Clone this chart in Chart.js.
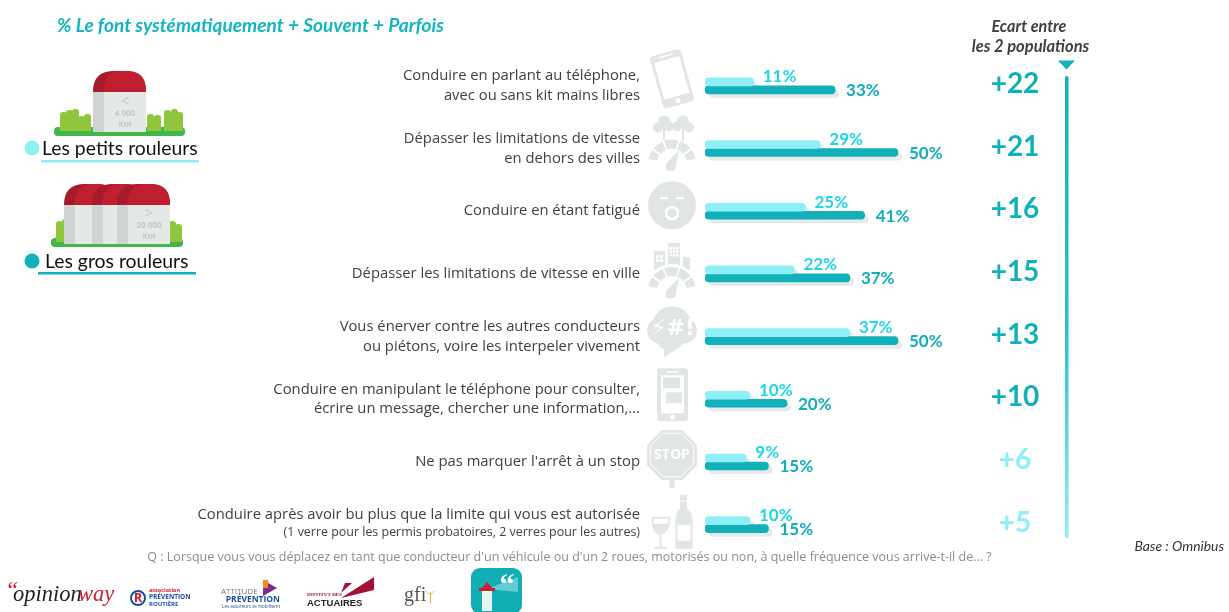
<!DOCTYPE html>
<html>
<head>
<meta charset="utf-8">
<title>Ecart entre les 2 populations</title>
<script src="https://cdn.jsdelivr.net/npm/chart.js@4"></script>
<style>
html, body { margin: 0; padding: 0; background: #fff; overflow: hidden; }
canvas { display: block; }
</style>
</head>
<body>
<canvas id="behaviourChart" width="1229" height="612"></canvas>
<script>
const categories = [
  ['Conduire en parlant au téléphone,', 'avec ou sans kit mains libres'],
  ['Dépasser les limitations de vitesse', 'en dehors des villes'],
  'Conduire en étant fatigué',
  'Dépasser les limitations de vitesse en ville',
  ['Vous énerver contre les autres conducteurs', 'ou piétons, voire les interpeler vivement'],
  ['Conduire en manipulant le téléphone pour consulter,', 'écrire un message, chercher une information,...'],
  'Ne pas marquer l\'arrêt à un stop',
  ['Conduire après avoir bu plus que la limite qui vous est autorisée', ' ']
];
const categoryNote = '(1 verre pour les permis probatoires, 2 verres pour les autres)';
const petitsRouleurs = [11, 29, 25, 22, 37, 10, 9, 10];
const grosRouleurs = [33, 50, 41, 37, 50, 20, 15, 15];
const ecarts = ['+22', '+21', '+16', '+15', '+13', '+10', '+6', '+5'];
const seriesNames = ['Les petits rouleurs', 'Les gros rouleurs'];

const LIGHT = '#8ef0f6';
const DARK = '#12b0b8';
const GREY = '#e1e6e5';
const FONT = '"Open Sans", sans-serif';
const NUM_FONT = 'Lato, sans-serif';

function rr(ctx, x, y, w, h, r) {
  ctx.beginPath();
  ctx.roundRect(x, y, w, h, r);
}

function text(ctx, str, x, y, font, color, align) {
  ctx.font = font;
  ctx.fillStyle = color;
  ctx.textAlign = align || 'left';
  ctx.textBaseline = 'middle';
  ctx.fillText(str, x, y);
}

// little gauge shared by icons 2 and 4
function gauge(ctx, cx, cy) {
  ctx.fillStyle = GREY;
  const segs = [[-2.95, -2.55], [-2.45, -1.98], [-1.9, -1.3], [-1.22, -0.7], [-0.6, -0.2]];
  segs.forEach(s => {
    ctx.beginPath();
    ctx.arc(cx, cy, 24, s[0], s[1]);
    ctx.arc(cx, cy, 15, s[1], s[0], true);
    ctx.closePath();
    ctx.fill();
  });
  ctx.beginPath();
  ctx.moveTo(cx + 7, cy - 13);
  ctx.lineTo(cx + 3, cy + 7);
  ctx.lineTo(cx - 6, cy + 7);
  ctx.lineTo(cx - 6, cy);
  ctx.closePath();
  ctx.fill();
}

const icons = [
  function (ctx, y) { // phone
    ctx.save();
    ctx.translate(672, y - 7);
    ctx.rotate(-0.27);
    ctx.fillStyle = GREY;
    rr(ctx, -16, -27, 32, 54, 4);
    ctx.fill();
    ctx.fillStyle = '#fff';
    ctx.fillRect(-13, -20, 26, 38);
    ctx.fillRect(-7, -24.5, 14, 1.5);
    ctx.beginPath();
    ctx.arc(0, 22.5, 2.5, 0, Math.PI * 2);
    ctx.fill();
    ctx.restore();
  },
  function (ctx, y) { // trees and gauge
    ctx.fillStyle = GREY;
    [[664, y - 27, 6], [658, y - 21, 5], [669, y - 22, 5], [683, y - 27, 6], [677, y - 22, 5], [689, y - 21, 5]].forEach(c => {
      ctx.beginPath();
      ctx.arc(c[0], c[1], c[2], 0, Math.PI * 2);
      ctx.fill();
    });
    ctx.fillRect(663, y - 22, 2, 14);
    ctx.fillRect(682, y - 22, 2, 14);
    gauge(ctx, 672, y + 15);
  },
  function (ctx, y) { // tired face
    const cy = y - 6;
    ctx.fillStyle = GREY;
    ctx.beginPath();
    ctx.arc(672, cy, 24, 0, Math.PI * 2);
    ctx.fill();
    ctx.fillStyle = '#fff';
    ctx.fillRect(660, cy - 8, 8, 2);
    ctx.fillRect(676, cy - 8, 8, 2);
    ctx.strokeStyle = '#fff';
    ctx.lineWidth = 2.5;
    ctx.beginPath();
    ctx.arc(672, cy + 8, 6, 0, Math.PI * 2);
    ctx.stroke();
  },
  function (ctx, y) { // buildings and gauge
    ctx.fillStyle = GREY;
    ctx.fillRect(654, y - 23, 11, 25);
    ctx.fillRect(668, y - 31, 12, 33);
    ctx.fillRect(683, y - 17, 7, 20);
    ctx.fillStyle = '#fff';
    for (let i = 0; i < 2; i++) for (let j = 0; j < 2; j++) ctx.fillRect(656 + i * 4, y - 19 + j * 4, 3, 3);
    for (let i = 0; i < 3; i++) for (let j = 0; j < 3; j++) ctx.fillRect(669.5 + i * 3.3, y - 27 + j * 3.5, 2.4, 2.5);
    ctx.fillStyle = '#fff';
    ctx.beginPath();
    ctx.arc(672, y + 17, 27, Math.PI, 0);
    ctx.fill();
    gauge(ctx, 672, y + 17);
  },
  function (ctx, y) { // angry speech bubble
    const cy = y - 7;
    ctx.fillStyle = GREY;
    [[672, cy - 3, 20], [660, cy + 1, 13], [684, cy + 1, 13], [670, cy + 6, 15]].forEach(c => {
      ctx.beginPath();
      ctx.arc(c[0], c[1], c[2], 0, Math.PI * 2);
      ctx.fill();
    });
    ctx.beginPath();
    ctx.moveTo(664, cy + 16);
    ctx.lineTo(664, cy + 28);
    ctx.lineTo(680, cy + 17);
    ctx.closePath();
    ctx.fill();
    text(ctx, '⚡#!', 673, cy, 'bold 22px "DejaVu Sans", sans-serif', '#fff', 'center');
  },
  function (ctx, y) { // phone with messages
    ctx.fillStyle = GREY;
    rr(ctx, 657, y - 31, 31, 53, 3);
    ctx.fill();
    ctx.fillStyle = '#fff';
    ctx.fillRect(661, y - 24, 23, 38);
    ctx.fillRect(667, y - 28, 11, 1.5);
    ctx.beginPath();
    ctx.arc(672.5, y + 18, 2.5, 0, Math.PI * 2);
    ctx.fill();
    ctx.fillStyle = GREY;
    ctx.fillRect(663, y - 22, 17, 11);
    ctx.fillRect(666, y - 7, 16, 11);
  },
  function (ctx, y) { // stop sign
    const cx = 672, cy = y - 7, r = 27;
    ctx.fillStyle = GREY;
    ctx.fillRect(cx - 2.5, cy + 20, 5, 13);
    ctx.beginPath();
    for (let i = 0; i < 8; i++) {
      const a = Math.PI / 8 + i * Math.PI / 4;
      ctx.lineTo(cx + r * Math.cos(a), cy + r * Math.sin(a));
    }
    ctx.closePath();
    ctx.fill();
    ctx.strokeStyle = '#fff';
    ctx.lineWidth = 1;
    ctx.beginPath();
    for (let i = 0; i < 8; i++) {
      const a = Math.PI / 8 + i * Math.PI / 4;
      ctx.lineTo(cx + 23.5 * Math.cos(a), cy + 23.5 * Math.sin(a));
    }
    ctx.closePath();
    ctx.stroke();
    text(ctx, 'STOP', cx, cy, 'bold 14px ' + FONT, '#fff', 'center');
  },
  function (ctx, y) { // wine glass and bottle
    ctx.fillStyle = GREY;
    ctx.strokeStyle = GREY;
    ctx.lineWidth = 2;
    ctx.beginPath();
    ctx.moveTo(652.5, y - 7);
    ctx.bezierCurveTo(651, y + 14, 669, y + 14, 669.5, y - 7);
    ctx.closePath();
    ctx.stroke();
    ctx.beginPath();
    ctx.moveTo(652.5, y - 1);
    ctx.bezierCurveTo(653, y + 12, 669, y + 12, 669, y - 1);
    ctx.closePath();
    ctx.fill();
    ctx.fillRect(659.5, y + 9, 2, 14);
    ctx.fillRect(654, y + 22, 13, 2);
    ctx.beginPath();
    ctx.moveTo(680, y - 30);
    ctx.lineTo(687, y - 30);
    ctx.lineTo(687, y - 16);
    ctx.quadraticCurveTo(692, y - 13, 692.5, y - 5);
    ctx.lineTo(692.5, y + 24);
    ctx.lineTo(675.5, y + 24);
    ctx.lineTo(675.5, y - 5);
    ctx.quadraticCurveTo(676, y - 13, 680, y - 16);
    ctx.closePath();
    ctx.fill();
    ctx.fillStyle = '#fff';
    ctx.fillRect(677.5, y, 13, 16);
    ctx.fillRect(679, y - 24, 9, 1);
  }
];

function milestone(ctx, x, y, w, h) {
  // one stone: red cap, grey side, pale front
  const capH = 21;
  ctx.fillStyle = '#a51b2b';
  ctx.beginPath();
  ctx.moveTo(x, y + capH);
  ctx.bezierCurveTo(x, y + 4, x + 10, y, x + w * 0.4, y);
  ctx.lineTo(x + w * 0.6, y);
  ctx.bezierCurveTo(x + w - 10, y, x + w, y + 4, x + w, y + capH);
  ctx.closePath();
  ctx.fill();
  ctx.fillStyle = '#c01f30';
  ctx.beginPath();
  ctx.moveTo(x + 10, y + capH);
  ctx.bezierCurveTo(x + 11, y + 6, x + 18, y, x + w * 0.5, y);
  ctx.lineTo(x + w * 0.62, y);
  ctx.bezierCurveTo(x + w - 8, y, x + w, y + 4, x + w, y + capH);
  ctx.closePath();
  ctx.fill();
  ctx.fillStyle = '#cfd3d2';
  ctx.fillRect(x, y + capH, 11, h - capH);
  ctx.fillStyle = '#e4e8e7';
  ctx.fillRect(x + 11, y + capH, w - 11, h - capH);
}

function grass(ctx, x, top, bottom) {
  ctx.fillStyle = '#8fc63d';
  rr(ctx, x, top, 7, bottom - top, [3, 3, 0, 0]);
  ctx.fill();
}

function drawLegend(ctx) {
  // small mileage stone
  ctx.fillStyle = '#43b649';
  rr(ctx, 54, 127, 131, 9, 4);
  ctx.fill();
  [[60, 112], [66, 110], [72, 109], [78, 116], [84, 114], [147, 114], [154, 115], [164, 110], [171, 109], [176, 112]].forEach(g => grass(ctx, g[0], g[1], 131));
  milestone(ctx, 93, 71, 53, 61);
  text(ctx, '<', 125, 102, '15px ' + FONT, '#c3c7c6', 'center');
  text(ctx, '4 000', 125, 114, 'bold 8px ' + FONT, '#c3c7c6', 'center');
  text(ctx, 'Km', 125, 125, 'bold 8px ' + FONT, '#c3c7c6', 'center');

  // three big stones
  ctx.fillStyle = '#43b649';
  rr(ctx, 51, 238, 132, 9, 4);
  ctx.fill();
  [[56, 221], [62, 219], [169, 221], [175, 224]].forEach(g => grass(ctx, g[0], g[1], 242));
  milestone(ctx, 64, 184, 53, 60);
  milestone(ctx, 92, 184, 53, 60);
  milestone(ctx, 117, 184, 53, 60);
  text(ctx, '>', 149, 214, '15px ' + FONT, '#c3c7c6', 'center');
  text(ctx, '20 000', 149, 226, 'bold 8px ' + FONT, '#c3c7c6', 'center');
  text(ctx, 'Km', 149, 237, 'bold 8px ' + FONT, '#c3c7c6', 'center');

  ctx.fillStyle = LIGHT;
  ctx.beginPath();
  ctx.arc(32, 148, 7.5, 0, Math.PI * 2);
  ctx.fill();
  ctx.fillRect(41, 160, 158, 2.5);
  text(ctx, seriesNames[0], 42, 149, '19.4px ' + NUM_FONT, '#111', 'left');

  ctx.fillStyle = DARK;
  ctx.beginPath();
  ctx.arc(32, 261, 7.5, 0, Math.PI * 2);
  ctx.fill();
  ctx.fillRect(38, 272, 158, 2.5);
  text(ctx, seriesNames[1], 45, 262, '19.4px ' + NUM_FONT, '#111', 'left');
}

function drawLogos(ctx) {
  text(ctx, '“', 5, 592, 'italic 24px "Liberation Serif", serif', '#c8202f', 'left');
  text(ctx, 'opinion', 13, 595, 'italic 22.5px "Liberation Serif", serif', '#222', 'left');
  text(ctx, 'way', 78, 595, 'italic 22.5px "Liberation Serif", serif', '#c8202f', 'left');

  ctx.strokeStyle = '#1c4f9c';
  ctx.lineWidth = 2;
  ctx.beginPath();
  ctx.arc(138, 598, 7, 0, Math.PI * 2);
  ctx.stroke();
  text(ctx, 'R', 138, 598, 'bold 13px ' + FONT, '#c8202f', 'center');
  text(ctx, 'association', 149, 590, 'bold 5.5px ' + FONT, '#c8202f', 'left');
  text(ctx, 'PRÉVENTION', 149, 597, 'bold 6.5px ' + FONT, '#1c4f9c', 'left');
  text(ctx, 'ROUTIÈRE', 149, 604, 'bold 6px ' + FONT, '#1c4f9c', 'left');

  text(ctx, 'ATTITUDE', 221, 592, '8px ' + FONT, '#777', 'left');
  text(ctx, 'PRÉVENTION', 280, 600, 'bold 8.5px ' + FONT, '#1c4f9c', 'right');
  text(ctx, 'Les assureurs se mobilisent', 280, 607, '4.5px ' + FONT, '#1c4f9c', 'right');
  ctx.fillStyle = '#7b2d8e';
  ctx.beginPath();
  ctx.moveTo(263, 580);
  ctx.lineTo(277, 588);
  ctx.lineTo(263, 596);
  ctx.closePath();
  ctx.fill();
  ctx.fillStyle = '#f28c28';
  ctx.fillRect(263, 580, 5, 8);

  text(ctx, 'INSTITUT DES', 307, 595, 'bold 5px "Liberation Serif", serif', '#8e1030', 'left');
  text(ctx, 'ACTUAIRES', 307, 603, 'bold 9.5px "Liberation Sans", sans-serif', '#222', 'left');
  ctx.fillStyle = '#a3103a';
  ctx.beginPath();
  ctx.moveTo(341, 593);
  ctx.lineTo(352, 583);
  ctx.lineTo(345, 583);
  ctx.closePath();
  ctx.fill();
  ctx.beginPath();
  ctx.moveTo(341, 598);
  ctx.lineTo(374, 577);
  ctx.lineTo(374, 590);
  ctx.closePath();
  ctx.fill();

  text(ctx, 'gfi', 404, 596, '20px "Liberation Serif", serif', '#555', 'left');
  ctx.strokeStyle = '#d9c77a';
  ctx.lineWidth = 1;
  ctx.beginPath();
  ctx.arc(430, 590, 4, 0.2, Math.PI);
  ctx.stroke();
  ctx.fillStyle = '#d9b93a';
  ctx.fillRect(430, 592, 1, 11);

  // lighthouse app tile
  ctx.save();
  rr(ctx, 471, 568, 51, 46, 9);
  ctx.clip();
  ctx.fillStyle = '#12aeb6';
  ctx.fillRect(471, 568, 51, 46);
  ctx.fillStyle = '#9adfe2';
  ctx.beginPath();
  ctx.moveTo(487, 589);
  ctx.lineTo(518, 577);
  ctx.lineTo(518, 592);
  ctx.closePath();
  ctx.globalAlpha = 0.6;
  ctx.fill();
  ctx.globalAlpha = 1;
  ctx.fillStyle = '#e9f3f3';
  ctx.fillRect(482, 591, 10, 20);
  ctx.fillStyle = '#c8202f';
  ctx.fillRect(479, 588, 16, 3);
  ctx.beginPath();
  ctx.moveTo(482, 588);
  ctx.lineTo(487, 582);
  ctx.lineTo(492, 588);
  ctx.closePath();
  ctx.fill();
  text(ctx, '“', 507, 586, 'bold 30px "Liberation Serif", serif', '#fff', 'center');
  ctx.restore();
}

const pagePlugin = {
  id: 'pagePlugin',
  beforeDatasetsDraw(chart) {
    const ctx = chart.ctx;
    const y = chart.scales.y;
    ctx.save();
    icons.forEach((draw, i) => {
      ctx.save();
      draw(ctx, y.getPixelForValue(i));
      ctx.restore();
    });
    // offset grey shadow under the bars
    ctx.fillStyle = '#e6eaea';
    [0, 1].forEach(d => {
      chart.getDatasetMeta(d).data.forEach(bar => {
        rr(ctx, bar.base + 4, bar.y - bar.height / 2 + 4, bar.x - bar.base, bar.height, 4);
        ctx.fill();
      });
    });
    ctx.restore();
  },
  afterDatasetsDraw(chart) {
    const ctx = chart.ctx;
    const y = chart.scales.y;

    // value labels at the end of the bars
    chart.getDatasetMeta(0).data.forEach((bar, i) => {
      text(ctx, petitsRouleurs[i] + '%', bar.x + 9, bar.y - 5, 'bold 17px ' + NUM_FONT, '#1fd6e6', 'left');
    });
    chart.getDatasetMeta(1).data.forEach((bar, i) => {
      text(ctx, grosRouleurs[i] + '%', bar.x + 11, bar.y + 1, 'bold 17px ' + NUM_FONT, '#14adb8', 'left');
    });

    // gap column
    ecarts.forEach((s, i) => {
      text(ctx, s, 1015, y.getPixelForValue(i) - 2, 'bold 28px ' + NUM_FONT, i < 6 ? DARK : LIGHT, 'center');
    });
    const grad = ctx.createLinearGradient(0, 76, 0, 538);
    grad.addColorStop(0, DARK);
    grad.addColorStop(0.55, '#2cc0c8');
    grad.addColorStop(1, LIGHT);
    ctx.fillStyle = grad;
    rr(ctx, 1065, 76, 3.5, 462, 1.7);
    ctx.fill();
    ctx.fillStyle = DARK;
    ctx.beginPath();
    ctx.moveTo(1058, 60.5);
    ctx.lineTo(1075, 60.5);
    ctx.lineTo(1066.5, 69.5);
    ctx.closePath();
    ctx.fill();

    // second, smaller line of the last category
    text(ctx, categoryNote, 640, y.getPixelForValue(7) + 8, '12.45px ' + FONT, '#404040', 'right');

    text(ctx, '% Le font systématiquement + Souvent + Parfois', 57, 26, 'italic bold 19.1px ' + NUM_FONT, '#14b5c0', 'left');
    text(ctx, 'Ecart entre', 1029, 27, 'italic bold 16.2px ' + NUM_FONT, '#404040', 'center');
    text(ctx, 'les 2 populations', 1030.5, 47, 'italic bold 16.5px ' + NUM_FONT, '#404040', 'center');
    text(ctx, 'Q : Lorsque vous vous déplacez en tant que conducteur d\'un véhicule ou d\'un 2 roues, motorisés ou non, à quelle fréquence vous arrive-t-il de... ?', 569.5, 557, '12.5px ' + FONT, '#8c8c8c', 'center');
    text(ctx, 'Base : Omnibus', 1224, 547, 'italic 13.9px ' + NUM_FONT, '#333', 'right');

    drawLegend(ctx);
    drawLogos(ctx);
  }
};

new Chart(document.getElementById('behaviourChart'), {
  type: 'bar',
  data: {
    labels: categories,
    datasets: [
      { label: seriesNames[0], data: petitsRouleurs, backgroundColor: LIGHT },
      { label: seriesNames[1], data: grosRouleurs, backgroundColor: DARK }
    ]
  },
  options: {
    indexAxis: 'y',
    responsive: false,
    animation: false,
    layout: { padding: { top: 54.5, bottom: 56, right: 294 } },
    datasets: {
      bar: { barThickness: 8, borderRadius: 4, borderSkipped: false, base: -2.16 }
    },
    scales: {
      x: { display: false, min: -2.16, max: 60 },
      y: {
        afterFit(scale) {
          scale.width = 705;
          scale.paddingTop = 0;
          scale.paddingBottom = 0;
        },
        grid: { display: false, drawTicks: false },
        border: { display: false },
        ticks: {
          padding: 65,
          color: '#404040',
          font: { family: FONT, size: 14.8, lineHeight: 1.35 }
        }
      }
    },
    plugins: { legend: { display: false }, tooltip: { enabled: false } }
  },
  plugins: [pagePlugin]
});
</script>
</body>
</html>
